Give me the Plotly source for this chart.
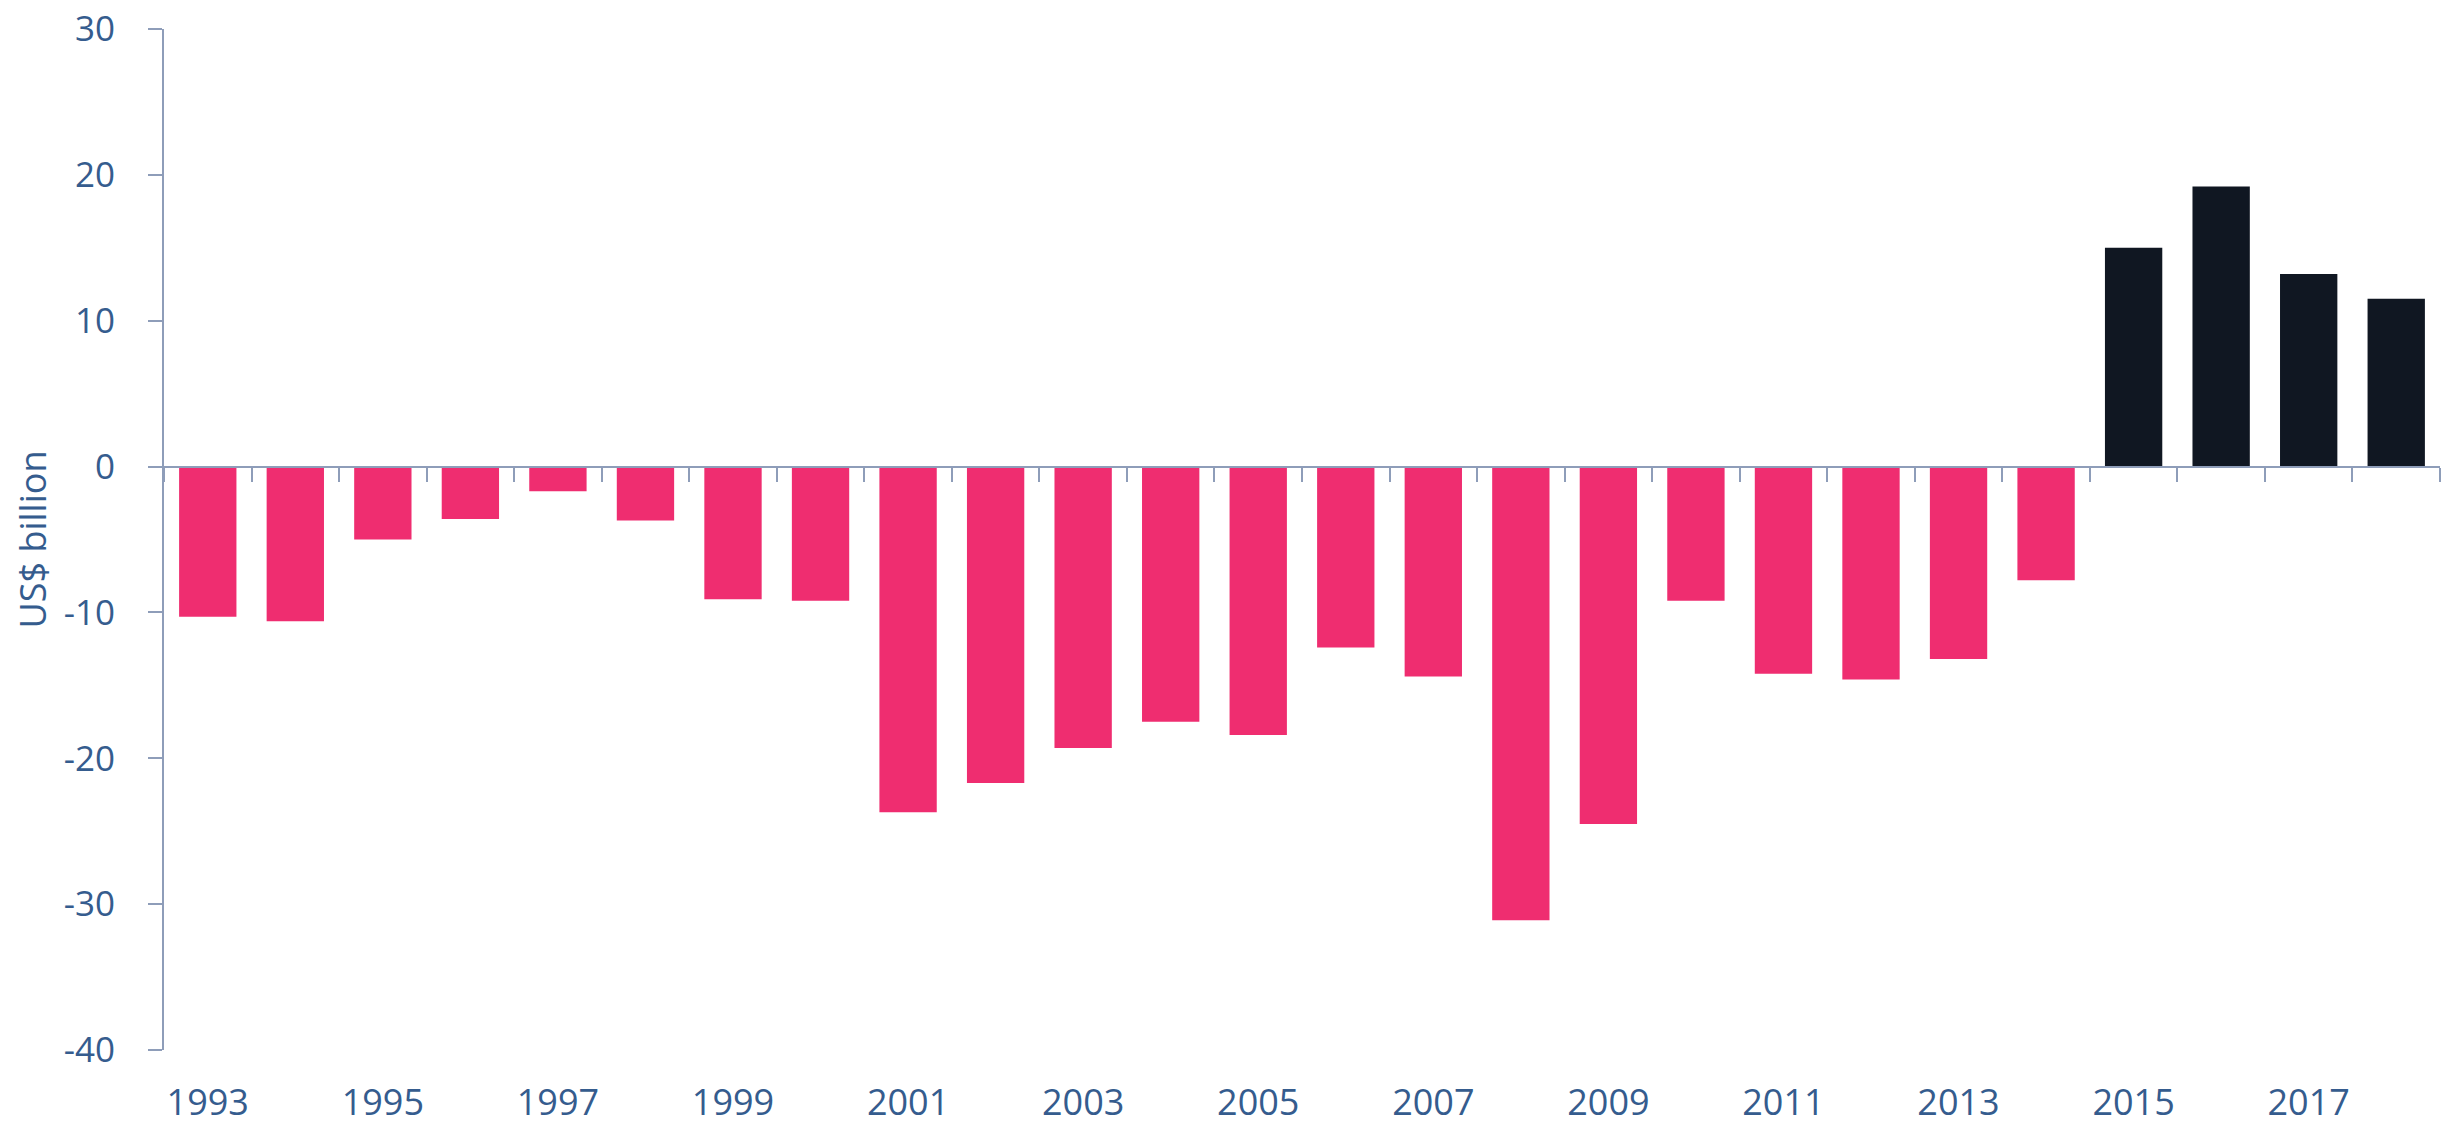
import plotly.graph_objects as go

years = [str(y) for y in range(1993, 2019)]
values = [-10.3, -10.6, -5.0, -3.6, -1.7, -3.7, -9.1, -9.2, -23.7, -21.7,
          -19.3, -17.5, -18.4, -12.4, -14.4, -31.1, -24.5, -9.2, -14.2, -14.6,
          -13.2, -7.8, 15.0, 19.2, 13.2, 11.5]
label_years = years[::2]
y_ticks = [-40, -30, -20, -10, 0, 10, 20, 30]

PINK = "#EF2D70"
DARK = "#101722"
AXIS = "#8E9DB9"
TEXT = "#355C8E"
colors = [DARK if v > 0 else PINK for v in values]

fig = go.Figure()
fig.add_trace(go.Bar(x=years, y=values, marker=dict(color=colors, line=dict(width=0)),
                     xaxis="x", yaxis="y", showlegend=False))
# invisible companion on the bottom label axis
fig.add_trace(go.Scatter(x=years, y=values, mode="markers", marker=dict(opacity=0),
                         xaxis="x2", yaxis="y", showlegend=False, hoverinfo="skip"))

ymin, ymax = -40, 30
zero_pos = (0 - ymin) / (ymax - ymin)

fig.update_layout(
    width=2451, height=1126,
    margin=dict(l=156, r=19, t=21, b=84),
    plot_bgcolor="white", paper_bgcolor="white",
    font=dict(family="Open Sans", size=35, color=TEXT),
    bargap=0.345,
    xaxis=dict(type="category", categoryorder="array", categoryarray=years,
               range=[-0.5, len(years) - 0.5],
               anchor="free", position=zero_pos, side="bottom", automargin=False,
               showline=True, linecolor=AXIS, linewidth=2,
               ticks="outside", tickson="boundaries", ticklen=14, tickwidth=2, tickcolor=AXIS,
               showticklabels=False, showgrid=False, zeroline=False),
    xaxis2=dict(type="category", categoryorder="array", categoryarray=years,
                range=[-0.5, len(years) - 0.5], overlaying="x", anchor="y", side="bottom",
                automargin=False, ticklabeloverflow="allow",
                showline=False, ticks="", tickvals=label_years, ticktext=label_years,
                ticklabelstandoff=28,
                tickfont=dict(family="Open Sans", size=36, color=TEXT),
                showgrid=False, zeroline=False),
    yaxis=dict(range=[ymin, ymax], tickvals=y_ticks, ticktext=[str(t) for t in y_ticks],
               automargin=False, ticklabeloverflow="allow",
               showline=True, linecolor=AXIS, linewidth=2,
               ticks="outside", ticklen=14, tickwidth=2, tickcolor=AXIS,
               ticklabelstandoff=26,
               tickfont=dict(family="Open Sans", size=35, color=TEXT),
               showgrid=False, zeroline=False,
               title=dict(text="US$ billion", standoff=14,
                          font=dict(family="Open Sans", size=36, color=TEXT))),
)

fig.write_html("out.html")
